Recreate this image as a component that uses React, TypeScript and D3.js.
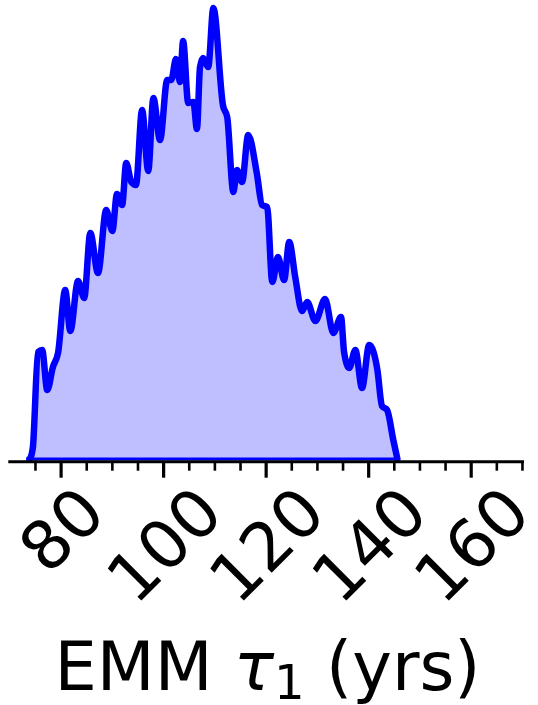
import React from "react";
import * as d3 from "d3";

const xs = [73.8, 74.0, 74.5, 75.5, 76.3, 77.3, 78.4, 79.4, 80.8, 81.8, 83.3, 84.5, 85.7, 87.2, 88.8, 90.0, 90.9, 91.9, 92.7, 93.7, 94.6, 95.8, 97.0, 98.0, 99.3, 100.7, 101.5, 102.4, 103.2, 103.8, 104.8, 105.8, 106.5, 107.1, 107.7, 108.7, 109.7, 111.6, 112.4, 113.6, 114.3, 115.3, 116.5, 118.2, 119.2, 120.2, 121.2, 122.3, 123.5, 124.5, 125.7, 127.0, 128.0, 129.6, 131.5, 133.1, 134.6, 135.2, 136.2, 137.4, 138.7, 140.1, 141.7, 142.6, 143.6, 144.8, 145.6];
const counts = [0, 1, 12, 107, 109, 69, 92, 106, 169, 128, 178, 161, 226, 186, 249, 228, 265, 254, 296, 277, 274, 349, 288, 361, 319, 379, 379, 400, 377, 418, 356, 357, 330, 392, 401, 392, 451, 353, 342, 267, 289, 277, 324, 285, 254, 252, 177, 202, 179, 217, 181, 148, 157, 138, 160, 126, 142, 107, 91, 109, 71, 114, 89, 53, 49, 19, 0];
const majorTicks = [80, 100, 120, 140, 160];
const minorTicks = [75, 85, 90, 95, 105, 110, 115, 125, 130, 135, 145, 150, 155, 165, 170];

const W = 538;
const H = 705;
const FS = 67;

export default function App() {
  const x = d3.scaleLinear().domain([69.7, 170.3]).range([8.3, 524]);
  const y = d3.scaleLinear().domain([0, 451]).range([459, 8]);
  const pts: [number, number][] = xs.map((v, i) => [v, counts[i]]);
  const area = d3
    .area<[number, number]>()
    .x((d) => x(d[0]))
    .y0(y(0))
    .y1((d) => y(d[1]))
    .curve(d3.curveMonotoneX);
  const line = d3
    .line<[number, number]>()
    .x((d) => x(d[0]))
    .y((d) => y(d[1]))
    .curve(d3.curveMonotoneX);
  const axisY = 461.7;
  return (
    <svg
      width={W}
      height={H}
      style={{ position: "absolute", left: 0, top: 0 }}
      fontFamily="DejaVu Sans"
    >
      <rect width={W} height={H} fill="#fff" />
      <path d={area(pts) || ""} fill="#bfbfff" stroke="none" />
      <path
        d={line(pts) || ""}
        fill="none"
        stroke="#0000ff"
        strokeWidth={6.5}
        strokeLinejoin="round"
        strokeLinecap="round"
      />
      <line x1={x(xs[0])} x2={x(xs[xs.length - 1])} y1={y(0)} y2={y(0)} stroke="#0000ff" strokeWidth={3} />
      <line x1={x.range()[0]} x2={x.range()[1]} y1={axisY} y2={axisY} stroke="#000" strokeWidth={3} />
      {minorTicks.map((t) => (
        <line key={"m" + t} x1={x(t)} x2={x(t)} y1={axisY} y2={axisY + 9} stroke="#000" strokeWidth={2.6} />
      ))}
      {majorTicks.map((t) => (
        <line key={"M" + t} x1={x(t)} x2={x(t)} y1={axisY} y2={axisY + 16} stroke="#000" strokeWidth={3.2} />
      ))}
      {majorTicks.map((t) => {
        const label = String(t);
        const w = label.length * 0.636 * FS;
        const cx = x(t);
        const cy = 499 + 0.3536 * w;
        return (
          <text
            key={"l" + t}
            transform={`translate(${cx},${cy}) rotate(-45)`}
            textAnchor="middle"
            dy="0.36em"
            fontSize={FS}
            fill="#000"
          >
            {label}
          </text>
        );
      })}
      <text x={267.5} y={690} textAnchor="middle" fontSize={FS} fill="#000">
        EMM{" "}
        <tspan fontStyle="italic">τ</tspan>
        <tspan fontSize={FS * 0.72} dy={9}>1</tspan>
        <tspan dy={-9}> (yrs)</tspan>
      </text>
    </svg>
  );
}
